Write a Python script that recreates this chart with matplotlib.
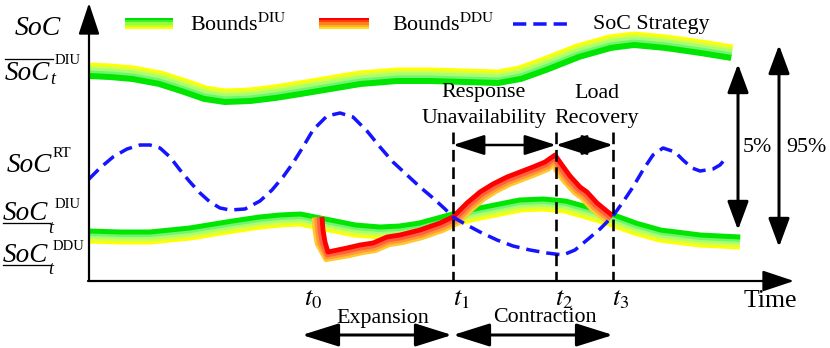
import numpy as np
import matplotlib.pyplot as plt

plt.rcParams['font.family'] = ['Liberation Serif', 'DejaVu Serif']
plt.rcParams['mathtext.fontset'] = 'stix'

# all curves in pixel units (x to the right, y downwards)
upper_x = [89, 110, 133, 160, 185, 205, 225, 250, 275, 300, 330, 360, 397, 430,
           465, 498, 520, 545, 578, 610, 634, 666, 701, 732]
upper_y = [71, 72, 74, 79, 87, 94, 97, 96, 93, 89, 84, 79, 76, 76,
           77, 78, 74, 65, 52, 43, 40, 43, 48, 53]

lower_x = [89, 120, 150, 190, 233, 260, 280, 300, 330, 355, 380, 400, 420, 453,
           480, 500, 520, 543, 565, 590, 613, 635, 660, 700, 740]
lower_y = [236, 237, 237, 233, 226, 222, 220, 219, 225, 230, 232, 231, 228, 219,
           213, 209, 205, 204, 206, 213, 220, 228, 235, 240, 242]

ddu_x = [322, 323, 325, 328, 347, 360, 373, 387, 400, 420, 440, 453, 467, 480,
         493, 507, 520, 533, 545, 555, 562, 570, 580, 587, 597, 608, 613]
ddu_y = [217, 230, 242, 252, 248, 245, 243, 237, 235, 230, 223, 217, 203, 192,
         184, 177, 172, 167, 162, 155, 165, 176, 187, 192, 203, 212, 216]

soc_x = [89, 100, 113, 127, 140, 150, 160, 170, 180, 190, 200, 210, 220, 230,
         245, 260, 272, 283, 293, 303, 313, 327, 340, 353, 367, 380, 393, 407,
         420, 433, 445, 453, 465, 480, 497, 513, 530, 547, 563, 575, 587, 600,
         613, 623, 633, 643, 653, 663, 675, 683, 692, 700, 713, 720, 727]
soc_y = [179, 168, 157, 149, 145, 145, 148, 157, 170, 182, 193, 202, 208, 210,
         209, 201, 190, 177, 163, 147, 130, 116, 113, 117, 131, 147, 162, 175,
         187, 198, 209, 217, 224, 232, 240, 246, 250, 253, 255, 250, 240, 229,
         216, 202, 187, 170, 155, 148, 152, 160, 168, 171, 169, 165, 157]

event_x = [453, 556, 613]
event_labels = ['$t_1$', '$t_2$', '$t_3$']
t0_x = 313

diu_colors = ['#ffff00', '#d8ff40', '#a8ff70', '#70f570', '#00e600']
ddu_colors = ['#ffc830', '#ff9933', '#ff6040', '#ff0000']

fig = plt.figure(figsize=(8.3, 3.48), dpi=100)
ax = fig.add_axes([0, 0, 1, 1])
ax.set_xlim(0, 830)
ax.set_ylim(348, 0)
ax.axis('off')

PX = 0.72  # points per pixel


def band(x, y, colors, offsets, widths, z):
    x = np.asarray(x, float)
    y = np.asarray(y, float)
    tx, ty = np.gradient(x), np.gradient(y)
    n = np.hypot(tx, ty)
    nx, ny = -ty / n, tx / n
    for c, o, w in zip(colors, offsets, widths):
        ax.plot(x + o * nx, y + o * ny, color=c, lw=w * PX, zorder=z,
                solid_capstyle='butt', solid_joinstyle='round')


# upper DIU bound: yellow on top, green below
band(upper_x, upper_y, diu_colors, [-6.5, -4, -1.5, 1.5, 5], [4, 4, 4, 4, 6], 2)
# lower DIU bound: green on top, yellow below
band(lower_x, lower_y, diu_colors, [5.5, 3, 0.5, -2, -5], [4, 4, 4, 4, 5], 2)
# DDU bound
band(ddu_x, ddu_y, ddu_colors, [8, 5.5, 3, 0], [4.8, 4.8, 4.8, 4.8], 3)

# SoC strategy
ax.plot(soc_x, soc_y, color='#1414ff', lw=3.5 * PX, dashes=(3.8, 2.0), zorder=4)

# event lines
for xv in event_x:
    ax.plot([xv, xv], [132, 281], color='k', lw=2.6 * PX, dashes=(4.5, 2.2), zorder=5)


def arrow(p0, p1, style, lw, hl, hw):
    ax.annotate('', xy=p1, xytext=p0, zorder=6,
                arrowprops=dict(arrowstyle='%s,head_length=%g,head_width=%g' % (style, hl, hw),
                                color='k', lw=lw * PX, shrinkA=0, shrinkB=0,
                                mutation_scale=13))


# axes
arrow((89, 281), (89, 3), '-|>', 2.2, 1.5, 0.5)
arrow((88, 281), (794, 281), '-|>', 2.2, 1.5, 0.5)

# right-hand range arrows
arrow((738, 230), (738, 64), '<|-|>', 3, 1.35, 0.5)
arrow((779, 247), (779, 45), '<|-|>', 3, 1.35, 0.5)

# interval arrows
arrow((453, 145), (556, 145), '<|-|>', 2.5, 1.5, 0.48)
arrow((556, 145), (613, 145), '<|-|>', 2.5, 1.5, 0.48)
arrow((302, 335), (452, 335), '<|-|>', 3, 1.75, 0.55)
arrow((453, 335), (613, 335), '<|-|>', 3, 1.75, 0.55)

fs = 15.8
ax.text(484, 93, 'Response', fontsize=fs, ha='center', va='center')
ax.text(484, 119, 'Unavailability', fontsize=fs, ha='center', va='center')
ax.text(597, 93, 'Load', fontsize=fs, ha='center', va='center')
ax.text(597, 119, 'Recovery', fontsize=fs, ha='center', va='center')
ax.text(757, 148, '5%', fontsize=fs, ha='center', va='center')
ax.text(806, 148, '95%', fontsize=fs, ha='center', va='center')
ax.text(383, 318, 'Expansion', fontsize=fs, ha='center', va='center')
ax.text(545, 318, 'Contraction', fontsize=fs, ha='center', va='center')
ax.text(770, 301, 'Time', fontsize=18.5, ha='center', va='center')

ax.text(t0_x, 305, '$t_0$', fontsize=19, ha='center', va='baseline')
for xv, lab in zip(event_x, event_labels):
    ax.text(xv + 8, 305, lab, fontsize=19, ha='center', va='baseline')

# left labels
sfs = 19.5
ax.text(38, 35, 'SoC', fontsize=20, style='italic', ha='center', va='baseline')

ax.text(5, 80, 'SoC', fontsize=sfs, style='italic', ha='left', va='baseline')
ax.text(50, 84, 't', fontsize=13, style='italic', ha='left', va='baseline')
ax.text(55, 64, 'DIU', fontsize=10.5, ha='left', va='baseline')
ax.plot([5, 53], [59, 59], color='k', lw=1.3 * PX)

ax.text(7, 172, 'SoC', fontsize=sfs, style='italic', ha='left', va='baseline')
ax.text(53, 157, 'RT', fontsize=11, ha='left', va='baseline')

ax.text(3, 220, 'SoC', fontsize=sfs, style='italic', ha='left', va='baseline')
ax.text(48, 233, 't', fontsize=13, style='italic', ha='left', va='baseline')
ax.text(55, 208, 'DIU', fontsize=10.5, ha='left', va='baseline')
ax.plot([3, 50], [222.5, 222.5], color='k', lw=1.3 * PX)

ax.text(3, 262, 'SoC', fontsize=sfs, style='italic', ha='left', va='baseline')
ax.text(48, 274, 't', fontsize=13, style='italic', ha='left', va='baseline')
ax.text(53, 250, 'DDU', fontsize=10.5, ha='left', va='baseline')
ax.plot([3, 50], [264.5, 264.5], color='k', lw=1.3 * PX)

# legend
leg_green = ['#00e000', '#40f030', '#90ff40', '#c8ff20', '#ffff00']
leg_red = ['#ff0000', '#ff4010', '#ff8020', '#ffb020', '#ffe020']
for i, (cg, cr) in enumerate(zip(leg_green, leg_red)):
    y0 = 18 + i * 2.2
    ax.fill_between([125, 173], y0, y0 + 2.3, color=cg, lw=0)
    ax.fill_between([319, 369], y0, y0 + 2.3, color=cr, lw=0)
ax.plot([513, 568], [24, 24], color='#1414ff', lw=3.5 * PX, dashes=(3.8, 2.0))
ax.text(190, 25, r'Bounds$^{\mathrm{DIU}}$', fontsize=fs, ha='left', va='center')
ax.text(392, 25, r'Bounds$^{\mathrm{DDU}}$', fontsize=fs, ha='left', va='center')
ax.text(593, 25, 'SoC Strategy', fontsize=fs, ha='left', va='center')

fig.savefig('out.png', dpi=100)
